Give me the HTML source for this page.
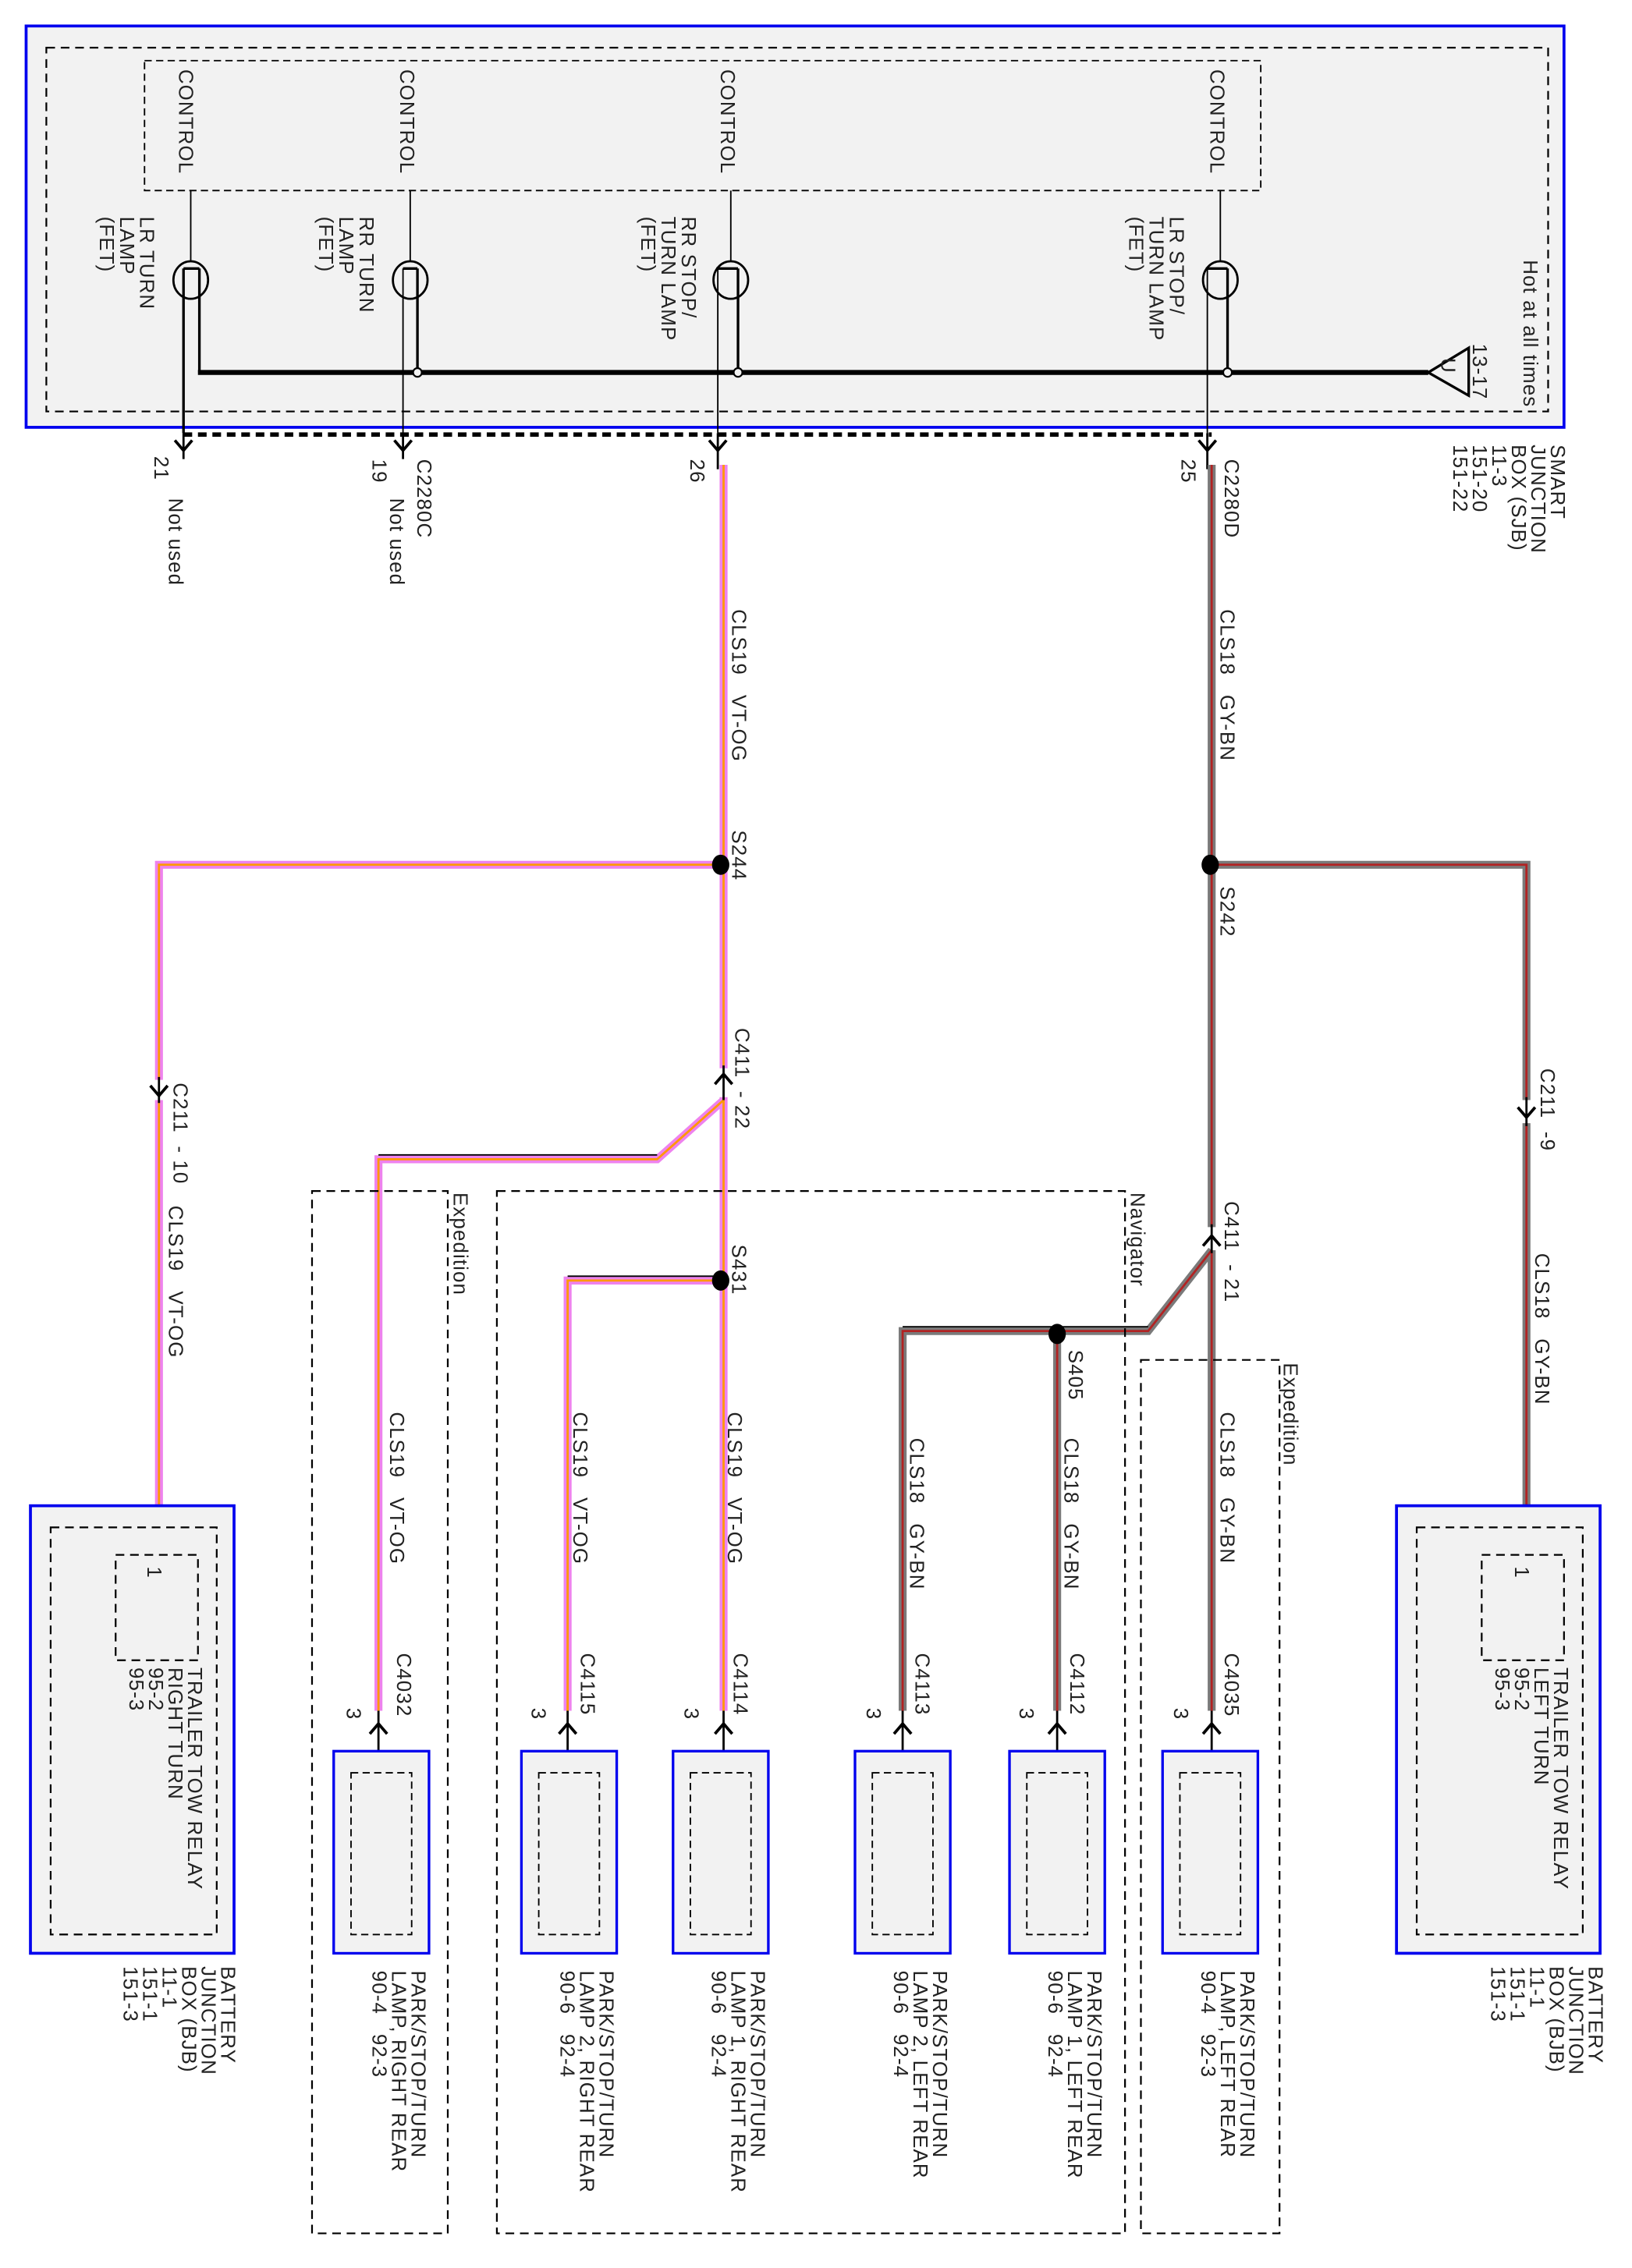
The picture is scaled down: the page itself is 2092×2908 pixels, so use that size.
<!DOCTYPE html>
<html><head><meta charset="utf-8"><style>
html,body{margin:0;padding:0;background:#fff}
svg{display:block}
text{font-family:"Liberation Sans",sans-serif;font-size:14px;letter-spacing:0.6px;fill:#222}
</style></head><body>
<svg width="2092" height="2908" viewBox="0 0 1130 1571" xmlns="http://www.w3.org/2000/svg">
<defs>
<g id="ad"><path d="M-6,-5 L0,2 L6,-5" fill="none" stroke="#000" stroke-width="2"/></g>
<g id="au"><path d="M-6,5 L0,-2 L6,5" fill="none" stroke="#000" stroke-width="2"/></g>
</defs>
<rect x="18" y="18" width="1065" height="278" fill="#f2f2f2" stroke="#0000ee" stroke-width="2"/>
<rect x="32" y="33" width="1040" height="252" fill="none" stroke="#000" stroke-width="1.2" stroke-dasharray="6,4"/>
<rect x="100" y="42" width="773" height="90" fill="none" stroke="#000" stroke-width="1" stroke-dasharray="5,3"/>
<g stroke="#000" fill="none">
<line x1="132" y1="132" x2="132" y2="181" stroke-width="1"/>
<line x1="284" y1="132" x2="284" y2="181" stroke-width="1"/>
<line x1="506" y1="132" x2="506" y2="181" stroke-width="1"/>
<line x1="845" y1="132" x2="845" y2="181" stroke-width="1"/>
<ellipse cx="132" cy="194" rx="12" ry="13" stroke-width="1.5"/>
<ellipse cx="284" cy="194" rx="12" ry="13" stroke-width="1.5"/>
<ellipse cx="506" cy="194" rx="12" ry="13" stroke-width="1.5"/>
<ellipse cx="845" cy="194" rx="12" ry="13" stroke-width="1.5"/>
<path d="M127,186 H138 M127,186 V300 M138,186 V258" stroke-width="1.8"/>
<path d="M279,186 H289 M289,186 V258 M496,186 H511 M511,186 V258 M835,186 H850 M850,186 V258" stroke-width="1.8"/>
<path d="M279,186 V300 M497,186 V300 M836,186 V300" stroke-width="1"/>
<path d="M137,258 H989" stroke-width="3.5"/>
<path d="M989,258 L1017,241 V274 Z" stroke-width="1.8"/>
<circle cx="289" cy="258" r="3" fill="#f2f2f2" stroke-width="1.2"/>
<circle cx="511" cy="258" r="3" fill="#f2f2f2" stroke-width="1.2"/>
<circle cx="850" cy="258" r="3" fill="#f2f2f2" stroke-width="1.2"/>
<line x1="127" y1="301" x2="839" y2="301" stroke-width="3" stroke-dasharray="6,4"/>
<path d="M127,300 V318 M279,300 V318 M497,300 V325 M836,300 V325" stroke-width="1.5"/>
</g>
<use href="#ad" x="127" y="310"/><use href="#ad" x="279" y="310"/><use href="#ad" x="497" y="310"/><use href="#ad" x="836" y="310"/>

<text transform="translate(124,48) rotate(90)">CONTROL</text>
<text transform="translate(277,48) rotate(90)">CONTROL</text>
<text transform="translate(499,48) rotate(90)">CONTROL</text>
<text transform="translate(838,48) rotate(90)">CONTROL</text>
<text transform="translate(97,150) rotate(90)"><tspan x="0" dy="0">LR TURN</tspan><tspan x="0" dy="14">LAMP</tspan><tspan x="0" dy="14">(FET)</tspan></text>
<text transform="translate(249,150) rotate(90)"><tspan x="0" dy="0">RR TURN</tspan><tspan x="0" dy="14">LAMP</tspan><tspan x="0" dy="14">(FET)</tspan></text>
<text transform="translate(472,150) rotate(90)"><tspan x="0" dy="0">RR STOP/</tspan><tspan x="0" dy="14">TURN LAMP</tspan><tspan x="0" dy="14">(FET)</tspan></text>
<text transform="translate(810,150) rotate(90)"><tspan x="0" dy="0">LR STOP/</tspan><tspan x="0" dy="14">TURN LAMP</tspan><tspan x="0" dy="14">(FET)</tspan></text>
<text transform="translate(1055,180) rotate(90)">Hot at all times</text>
<text transform="translate(1020,238) rotate(90)">13-17</text>
<text transform="translate(998,248) rotate(90)">U</text>
<text transform="translate(1074,308) rotate(90)"><tspan x="0" dy="0">SMART</tspan><tspan x="0" dy="13.5">JUNCTION</tspan><tspan x="0" dy="13.5">BOX (SJB)</tspan><tspan x="0" dy="13.5">11-3</tspan><tspan x="0" dy="13.5">151-20</tspan><tspan x="0" dy="13.5">151-22</tspan></text>
<text transform="translate(107,316) rotate(90)">21</text>
<text transform="translate(117,345) rotate(90)">Not used</text>
<text transform="translate(289,318) rotate(90)">C2280C</text>
<text transform="translate(258,318) rotate(90)">19</text>
<text transform="translate(270,345) rotate(90)">Not used</text>
<text transform="translate(478,318) rotate(90)">26</text>
<text transform="translate(818,318) rotate(90)">25</text>
<text transform="translate(848,318) rotate(90)">C2280D</text>

<g fill="none" stroke-linejoin="miter">
<g stroke="#ee82ee" stroke-width="5.5">
<path d="M501,322 V740"/><path d="M501,760 V1185"/>
<path d="M501,599 H110 V748"/><path d="M110,762 V1045"/>
<path d="M501,762 L455,803 H262 V1185"/>
<path d="M501,887 H393 V1185"/>
</g>
<g stroke="#ff9900" stroke-width="1.5">
<path d="M501,322 V740"/><path d="M501,760 V1185"/>
<path d="M501,599 H110 V748"/><path d="M110,762 V1045"/>
<path d="M501,762 L455,803 H262 V1185"/>
<path d="M501,887 H393 V1185"/>
</g>
<path d="M455,800 H262 M501,884 H393" stroke="#000" stroke-width="1"/>
<g stroke="#7a7a7a" stroke-width="5.5">
<path d="M839,322 V850"/><path d="M839,866 V1185"/>
<path d="M839,599 H1057 V762"/><path d="M1057,778 V1045"/>
<path d="M839,866 L795,922 H625 V1185"/>
<path d="M732,924 V1185"/>
</g>
<g stroke="#b22222" stroke-width="1.5">
<path d="M839,322 V850"/><path d="M839,866 V1185"/>
<path d="M839,599 H1057 V762"/><path d="M1057,778 V1045"/>
<path d="M839,866 L795,922 H625 V1185"/>
<path d="M732,924 V1185"/>
</g>
<path d="M795,919 H625" stroke="#000" stroke-width="1"/>
<g stroke="#000" stroke-width="1.5">
<path d="M501,738 V762 M110,746 V764 M839,848 V868 M1057,760 V780"/>
<path d="M262,1185 V1228 M393,1185 V1228 M501,1185 V1228 M625,1185 V1228 M732,1185 V1228 M839,1185 V1228"/>
<path d="M110,1045 V1077 M1057,1045 V1077"/>
</g>
</g>
<use href="#au" x="501" y="746"/><use href="#ad" x="110" y="757"/><use href="#au" x="839" y="858"/><use href="#ad" x="1057" y="772"/>
<use href="#au" x="262" y="1196"/><use href="#au" x="393" y="1196"/><use href="#au" x="501" y="1196"/><use href="#au" x="625" y="1196"/><use href="#au" x="732" y="1196"/><use href="#au" x="839" y="1196"/>
<ellipse cx="499" cy="599" rx="6" ry="7" fill="#000"/>
<ellipse cx="838" cy="599" rx="6" ry="7" fill="#000"/>
<ellipse cx="499" cy="887" rx="6" ry="7" fill="#000"/>
<ellipse cx="732" cy="924" rx="6" ry="7" fill="#000"/>

<g fill="none" stroke="#000" stroke-width="1.2" stroke-dasharray="6,4">
<rect x="216" y="825" width="94" height="722"/>
<rect x="344" y="825" width="435" height="722"/>
<rect x="790" y="942" width="96" height="605"/>
</g>
<text transform="translate(314,826) rotate(90)">Expedition</text>
<text transform="translate(783,826) rotate(90)">Navigator</text>
<text transform="translate(889,944) rotate(90)">Expedition</text>

<text transform="translate(507,422) rotate(90)" xml:space="preserve">CLS19   VT-OG</text>
<text transform="translate(845,422) rotate(90)" xml:space="preserve">CLS18   GY-BN</text>
<text transform="translate(507,575) rotate(90)">S244</text>
<text transform="translate(845,614) rotate(90)">S242</text>
<text transform="translate(120,750) rotate(90)" xml:space="preserve">C211  - 10</text>
<text transform="translate(117,835) rotate(90)" xml:space="preserve">CLS19   VT-OG</text>
<text transform="translate(509,712) rotate(90)" xml:space="preserve">C411  - 22</text>
<text transform="translate(1067,740) rotate(90)" xml:space="preserve">C211  -9</text>
<text transform="translate(1063,868) rotate(90)" xml:space="preserve">CLS18   GY-BN</text>
<text transform="translate(848,832) rotate(90)" xml:space="preserve">C411  - 21</text>
<text transform="translate(507,862) rotate(90)">S431</text>
<text transform="translate(740,935) rotate(90)">S405</text>
<text transform="translate(270,978) rotate(90)" xml:space="preserve">CLS19   VT-OG</text>
<text transform="translate(397,978) rotate(90)" xml:space="preserve">CLS19   VT-OG</text>
<text transform="translate(504,978) rotate(90)" xml:space="preserve">CLS19   VT-OG</text>
<text transform="translate(630,996) rotate(90)" xml:space="preserve">CLS18   GY-BN</text>
<text transform="translate(737,996) rotate(90)" xml:space="preserve">CLS18   GY-BN</text>
<text transform="translate(845,978) rotate(90)" xml:space="preserve">CLS18   GY-BN</text>
<text transform="translate(275,1145) rotate(90)">C4032</text>
<text transform="translate(402,1145) rotate(90)">C4115</text>
<text transform="translate(508,1145) rotate(90)">C4114</text>
<text transform="translate(634,1145) rotate(90)">C4113</text>
<text transform="translate(741,1145) rotate(90)">C4112</text>
<text transform="translate(848,1145) rotate(90)">C4035</text>
<text transform="translate(240,1183) rotate(90)">3</text>
<text transform="translate(368,1183) rotate(90)">3</text>
<text transform="translate(474,1183) rotate(90)">3</text>
<text transform="translate(600,1183) rotate(90)">3</text>
<text transform="translate(706,1183) rotate(90)">3</text>
<text transform="translate(813,1183) rotate(90)">3</text>

<g fill="#f2f2f2" stroke="#0000ee" stroke-width="1.8">
<rect x="231" y="1213" width="66" height="140"/>
<rect x="361" y="1213" width="66" height="140"/>
<rect x="466" y="1213" width="66" height="140"/>
<rect x="592" y="1213" width="66" height="140"/>
<rect x="699" y="1213" width="66" height="140"/>
<rect x="805" y="1213" width="66" height="140"/>
</g>
<g fill="none" stroke="#000" stroke-width="1" stroke-dasharray="5,3">
<rect x="243" y="1228" width="42" height="112"/>
<rect x="373" y="1228" width="42" height="112"/>
<rect x="478" y="1228" width="42" height="112"/>
<rect x="604" y="1228" width="42" height="112"/>
<rect x="711" y="1228" width="42" height="112"/>
<rect x="817" y="1228" width="42" height="112"/>
</g>
<text transform="translate(285,1365) rotate(90)" xml:space="preserve"><tspan x="0" dy="0">PARK/STOP/TURN</tspan><tspan x="0" dy="13.5">LAMP, RIGHT REAR</tspan><tspan x="0" dy="13.5">90-4   92-3</tspan></text>
<text transform="translate(415,1365) rotate(90)" xml:space="preserve"><tspan x="0" dy="0">PARK/STOP/TURN</tspan><tspan x="0" dy="13.5">LAMP 2, RIGHT REAR</tspan><tspan x="0" dy="13.5">90-6   92-4</tspan></text>
<text transform="translate(520,1365) rotate(90)" xml:space="preserve"><tspan x="0" dy="0">PARK/STOP/TURN</tspan><tspan x="0" dy="13.5">LAMP 1, RIGHT REAR</tspan><tspan x="0" dy="13.5">90-6   92-4</tspan></text>
<text transform="translate(646,1365) rotate(90)" xml:space="preserve"><tspan x="0" dy="0">PARK/STOP/TURN</tspan><tspan x="0" dy="13.5">LAMP 2, LEFT REAR</tspan><tspan x="0" dy="13.5">90-6   92-4</tspan></text>
<text transform="translate(753,1365) rotate(90)" xml:space="preserve"><tspan x="0" dy="0">PARK/STOP/TURN</tspan><tspan x="0" dy="13.5">LAMP 1, LEFT REAR</tspan><tspan x="0" dy="13.5">90-6   92-4</tspan></text>
<text transform="translate(859,1365) rotate(90)" xml:space="preserve"><tspan x="0" dy="0">PARK/STOP/TURN</tspan><tspan x="0" dy="13.5">LAMP, LEFT REAR</tspan><tspan x="0" dy="13.5">90-4   92-3</tspan></text>

<g fill="#f2f2f2" stroke="#0000ee" stroke-width="2">
<rect x="21" y="1043" width="141" height="310"/>
<rect x="967" y="1043" width="141" height="310"/>
</g>
<g fill="none" stroke="#000" stroke-width="1.2" stroke-dasharray="6,4">
<rect x="35" y="1058" width="115" height="282"/>
<rect x="981" y="1058" width="115" height="282"/>
<rect x="80" y="1077" width="57" height="73"/>
<rect x="1026" y="1077" width="57" height="73"/>
</g>
<text transform="translate(102,1085) rotate(90)">1</text>
<text transform="translate(1049,1085) rotate(90)">1</text>
<text transform="translate(130,1155) rotate(90)"><tspan x="0" dy="0">TRAILER TOW RELAY</tspan><tspan x="0" dy="13.5">RIGHT TURN</tspan><tspan x="0" dy="13.5">95-2</tspan><tspan x="0" dy="13.5">95-3</tspan></text>
<text transform="translate(1076,1155) rotate(90)"><tspan x="0" dy="0">TRAILER TOW RELAY</tspan><tspan x="0" dy="13.5">LEFT TURN</tspan><tspan x="0" dy="13.5">95-2</tspan><tspan x="0" dy="13.5">95-3</tspan></text>
<text transform="translate(153,1362) rotate(90)"><tspan x="0" dy="0">BATTERY</tspan><tspan x="0" dy="13.5">JUNCTION</tspan><tspan x="0" dy="13.5">BOX (BJB)</tspan><tspan x="0" dy="13.5">11-1</tspan><tspan x="0" dy="13.5">151-1</tspan><tspan x="0" dy="13.5">151-3</tspan></text>
<text transform="translate(1100,1362) rotate(90)"><tspan x="0" dy="0">BATTERY</tspan><tspan x="0" dy="13.5">JUNCTION</tspan><tspan x="0" dy="13.5">BOX (BJB)</tspan><tspan x="0" dy="13.5">11-1</tspan><tspan x="0" dy="13.5">151-1</tspan><tspan x="0" dy="13.5">151-3</tspan></text>
</svg>
</body></html>
